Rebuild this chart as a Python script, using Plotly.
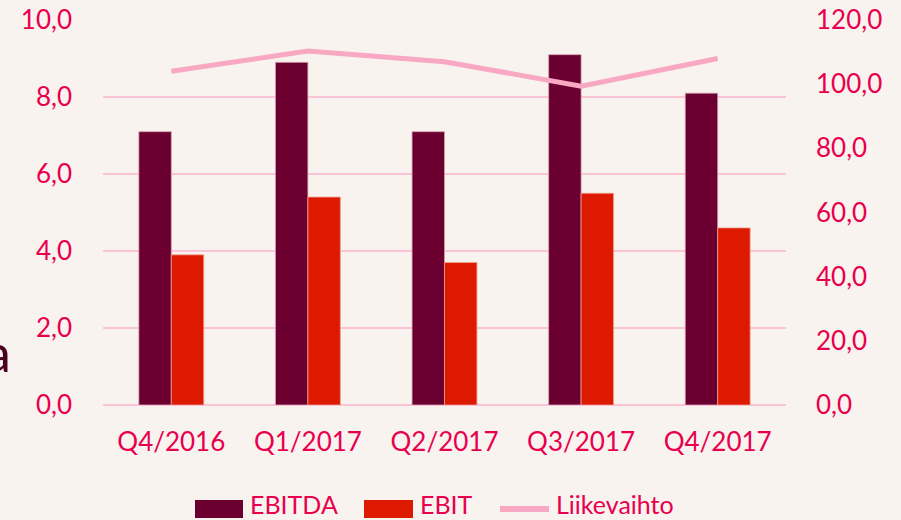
import plotly.graph_objects as go

categories = ["Q4/2016", "Q1/2017", "Q2/2017", "Q3/2017", "Q4/2017"]
ebitda = [7.1, 8.9, 7.1, 9.1, 8.1]
ebit = [3.9, 5.4, 3.7, 5.5, 4.6]
liikevaihto = [104.0, 110.3, 107.0, 99.4, 108.0]

left_ticks = [0, 2, 4, 6, 8, 10]
right_ticks = [0, 20, 40, 60, 80, 100, 120]

series_names = ["EBITDA", "EBIT", "Liikevaihto"]
series_colors = ["#6b0030", "#dd1a00", "#f9a8c4"]

TXT = "#e8004f"
GRID = "#fbc3d6"
BG = "#f8f3ee"
FONT = "Lato"
FS = 26

# plot area in pixels
L, R, T, B = 103, 786, 20, 405


def px(x):
    return (x - L) / (R - L)


def py(y):
    return (B - y) / (B - T)


fig = go.Figure()
fig.add_trace(go.Bar(x=categories, y=ebitda, name=series_names[0],
                     marker=dict(color=series_colors[0], line=dict(color="#d9a0b4", width=0.8))))
fig.add_trace(go.Bar(x=categories, y=ebit, name=series_names[1],
                     marker=dict(color=series_colors[1], line=dict(color="#f0a090", width=0.8))))
fig.add_trace(go.Scatter(x=categories, y=liikevaihto, name=series_names[2], yaxis="y2",
                         mode="lines", line=dict(color=series_colors[2], width=5)))

fig.update_layout(
    width=901, height=520,
    paper_bgcolor=BG, plot_bgcolor=BG,
    margin=dict(l=L, r=901 - R, t=T, b=520 - B, pad=0, autoexpand=False),
    separators=", ",
    font=dict(family=FONT, size=FS, color=TXT),
    barmode="group", bargap=0.525, bargroupgap=0,
    showlegend=False,
    xaxis=dict(showgrid=False, zeroline=False, showline=False, ticks="",
               automargin=False,
               tickfont=dict(size=FS, color=TXT), ticklabelstandoff=19),
    yaxis=dict(range=[0, 10], tickvals=left_ticks, tickformat=".1f",
               showgrid=True, gridcolor=GRID, gridwidth=1.5,
               zeroline=True, zerolinecolor=GRID, zerolinewidth=1.5,
               showline=False, ticks="", ticklabelstandoff=30, automargin=False,
               tickfont=dict(size=FS, color=TXT)),
    yaxis2=dict(range=[0, 120], tickvals=right_ticks, tickformat=".1f",
                overlaying="y", side="right", showgrid=False, zeroline=False,
                showline=False, ticks="", ticklabelstandoff=29, automargin=False,
                tickfont=dict(size=FS, color=TXT)),
)

# custom legend (large swatches as in the reference)
legend_items = [
    # (swatch x0, x1, text x, kind)
    (195, 243, 249, "rect"),
    (364, 413, 419, "rect"),
    (498, 551, 555, "line"),
]
for (x0, x1, tx, kind), name, col in zip(legend_items, series_names, series_colors):
    if kind == "rect":
        fig.add_shape(type="rect", xref="paper", yref="paper",
                      x0=px(x0), x1=px(x1), y0=py(518), y1=py(500),
                      fillcolor=col, line=dict(width=0))
    else:
        fig.add_shape(type="line", xref="paper", yref="paper",
                      x0=px(x0 + 2), x1=px(x1 - 2), y0=py(509), y1=py(509),
                      line=dict(color=col, width=6))
    fig.add_annotation(text=name, xref="paper", yref="paper",
                       x=px(tx), y=py(520), xanchor="left", yanchor="bottom",
                       showarrow=False, borderpad=0,
                       font=dict(family=FONT, size=25, color=TXT))

fig.add_annotation(text="a", xref="paper", yref="paper",
                   x=px(13), y=py(352),
                   xanchor="right", yanchor="middle", showarrow=False,
                   font=dict(family=FONT, size=52, color="#4a0020"))

fig.write_html("out.html", config={"displayModeBar": False},
               post_script="document.body.style.margin='0';")
